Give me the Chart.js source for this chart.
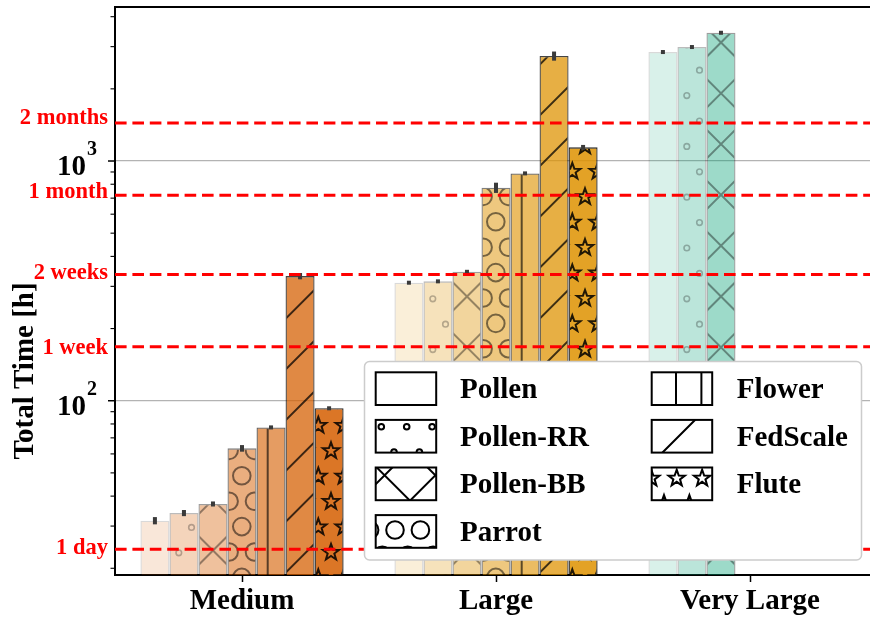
<!DOCTYPE html>
<html>
<head>
<meta charset="utf-8">
<script src="https://cdn.jsdelivr.net/npm/chart.js@4.4.1/dist/chart.umd.min.js"></script>
<style>
    html, body { margin: 0; padding: 0; background: #fff; overflow: hidden; }
    #wrap { width: 870px; height: 619px; overflow: hidden; position: relative; }
    #chart { position: absolute; left: 0; top: 0; }
</style>
</head>
<body>
<div id="wrap"><canvas id="chart" width="885" height="619"></canvas></div>
<script>
// Datos (horas)
const categories = ['Medium', 'Large', 'Very Large'];
const methods = ['Pollen', 'Pollen-RR', 'Pollen-BB', 'Parrot', 'Flower', 'FedScale', 'Flute'];

const pollen   = [31.6, 310.7, 2849];
const pollenRR = [34.0, 314.8, 2989];
const pollenBB = [37.1, 345, 3428];
const parrot   = [63.3, 774, null];
const flower   = [77.4, 888, null];
const fedscale = [331, 2742, null];
const flute    = [93.0, 1140, null];

const pollenErr   = [1.1, 4, 55];
const pollenRRErr = [1.0, 4, 57];
const pollenBBErr = [0.9, 4, 65];
const parrotErr   = [2.0, 38, null];
const flowerErr   = [1.5, 17, null];
const fedscaleErr = [10, 120, null];
const fluteErr    = [1.8, 27, null];

// Ejes
const yMin = 18.75;
const yMax = 4390;
const yTicks = [20, 30, 40, 50, 60, 70, 80, 90, 100, 200, 300, 400, 500, 600, 700, 800, 900, 1000, 2000, 3000, 4000];
const majorTicks = [100, 1000];
const majorExponents = ['2', '3'];

// Líneas de referencia
const refHours = [24, 168, 336, 720, 1440];
const refLabels = ['1 day', '1 week', '2 weeks', '1 month', '2 months'];

const series = [pollen, pollenRR, pollenBB, parrot, flower, fedscale, flute];
const errors = [pollenErr, pollenRRErr, pollenBBErr, parrotErr, flowerErr, fedscaleErr, fluteErr];

// Estilos
const groupColors = [[213, 94, 0], [222, 146, 0], [0, 158, 115]];
const alphas = [0.15, 0.267, 0.383, 0.5, 0.617, 0.733, 0.85];
const hatches = ['', 'o', 'x', 'O', '|', '/', '*'];
const FONT = '"Liberation Serif", "Times New Roman", serif';

const TILE = 254, P1 = 25.4, P2 = 50.8;
const barPhase = { 'o': [13.7, 19.4], 'x': [1.5, 18.1], 'O': [13.2, 18.6], '|': [13.7], '/': [45.5], '*': [0.8, 44.5] };
const legendPhase = { 'o': [0.3, 20.3], 'x': [47.1, 10.9], 'O': [14, 22], '|': [15.6], '/': [48.2], '*': [16.3, 21.1] };

function star(g, cx, cy, R, r) {
    for (let k = 0; k < 10; k++) {
        const a = -Math.PI / 2 + k * Math.PI / 5;
        const rad = k % 2 === 0 ? R : r;
        const px = cx + rad * Math.cos(a), py = cy + rad * Math.sin(a);
        if (k === 0) g.moveTo(px, py); else g.lineTo(px, py);
    }
    g.closePath();
}

function makePattern(hatch, fill, stroke, lw, ph) {
    const c = document.createElement('canvas');
    c.width = TILE; c.height = TILE;
    const g = c.getContext('2d');
    g.fillStyle = fill;
    g.fillRect(0, 0, TILE, TILE);
    g.strokeStyle = stroke;
    g.lineWidth = lw;
    g.lineJoin = 'miter';
    g.beginPath();
    if (hatch === '|') {
        for (let x = ph[0] - P1; x < TILE + P1; x += P1) { g.moveTo(x, -5); g.lineTo(x, TILE + 5); }
    } else if (hatch === '/') {
        for (let s = ph[0] - P2; s < 2 * TILE + P2; s += P2) { g.moveTo(s + 5, -5); g.lineTo(s - TILE - 5, TILE + 5); }
    } else if (hatch === 'x') {
        for (let s = ph[0] - P2; s < 2 * TILE + P2; s += P2) { g.moveTo(s + 5, -5); g.lineTo(s - TILE - 5, TILE + 5); }
        for (let d = ph[1] - TILE - P2; d < TILE + P2; d += P2) { g.moveTo(d - 5, -5); g.lineTo(d + TILE + 5, TILE + 5); }
    } else if (hatch === 'o' || hatch === 'O' || hatch === '*') {
        for (let j = -1; j <= TILE / P2 + 1; j++) {
            for (let i = -1; i <= TILE / P1 + 1; i++) {
                const pts = [[ph[0] + i * P1, ph[1] + j * P2], [ph[0] + i * P1 + P1 / 2, ph[1] + j * P2 + P1]];
                pts.forEach(([cx, cy]) => {
                    if (hatch === '*') {
                        star(g, cx, cy, 8.6, 3.5);
                    } else {
                        const r = hatch === 'o' ? 2.8 : 8.8;
                        g.moveTo(cx + r, cy);
                        g.arc(cx, cy, r, 0, Math.PI * 2);
                    }
                });
            }
        }
    }
    g.stroke();
    return g.createPattern(c, 'repeat');
}

const rgba = (c, a) => `rgba(${c[0]},${c[1]},${c[2]},${a})`;

const datasets = methods.map((name, i) => ({
    label: name,
    data: series[i],
    backgroundColor: groupColors.map(c => makePattern(hatches[i], rgba(c, alphas[i]), `rgba(0,0,0,${alphas[i]})`, hatches[i] === 'o' ? 1.6 : 2, barPhase[hatches[i]] || [0, 0])),
    borderColor: `rgba(0,0,0,${alphas[i]})`,
    borderWidth: 1.3,
    categoryPercentage: 0.8,
    barPercentage: 1.0
}));

const legendPatterns = hatches.map(h => makePattern(h, '#fff', '#000', 2, legendPhase[h] || [0, 0]));

const errorBarsPlugin = {
    id: 'errorBars',
    afterDatasetsDraw(chart) {
        const ctx = chart.ctx;
        const y = chart.scales.y;
        ctx.save();
        ctx.fillStyle = '#3a3a3a';
        chart.data.datasets.forEach((ds, i) => {
            const meta = chart.getDatasetMeta(i);
            meta.data.forEach((bar, j) => {
                const v = ds.data[j];
                if (v == null) return;
                const e = errors[i][j];
                let top = y.getPixelForValue(v + e);
                let bot = y.getPixelForValue(v - e);
                if (bot - top < 4) { const m = (top + bot) / 2; top = m - 2; bot = m + 2; }
                ctx.fillRect(bar.x - 2, top, 4, bot - top);
            });
        });
        ctx.restore();
    }
};

const overlayPlugin = {
    id: 'overlay',
    afterDraw(chart) {
        const ctx = chart.ctx;
        const area = chart.chartArea;
        const y = chart.scales.y;
        ctx.save();

        // borde superior
        ctx.strokeStyle = '#000';
        ctx.lineWidth = 2;
        ctx.beginPath();
        ctx.moveTo(area.left - 1, area.top);
        ctx.lineTo(area.right, area.top);
        ctx.stroke();

        // marcas del eje y
        yTicks.forEach(v => {
            const py = y.getPixelForValue(v);
            const major = majorTicks.includes(v);
            ctx.lineWidth = major ? 1.5 : 1.1;
            ctx.beginPath();
            ctx.moveTo(area.left, py);
            ctx.lineTo(area.left - (major ? 7 : 4.5), py);
            ctx.stroke();
        });

        // etiquetas 10^n
        ctx.fillStyle = '#000';
        majorTicks.forEach((v, i) => {
            const py = y.getPixelForValue(v);
            ctx.font = `bold 29px ${FONT}`;
            ctx.textAlign = 'right';
            ctx.textBaseline = 'alphabetic';
            ctx.fillText('10', 86, py + 14);
            ctx.font = `bold 20px ${FONT}`;
            ctx.textAlign = 'left';
            ctx.fillText(majorExponents[i], 87, py - 6);
        });

        // título del eje y
        ctx.save();
        ctx.translate(33, 371);
        ctx.rotate(-Math.PI / 2);
        ctx.font = `bold 29px ${FONT}`;
        ctx.textAlign = 'center';
        ctx.fillText('Total Time [h]', 0, 0);
        ctx.restore();

        // líneas rojas
        const nudges = [4.7, 7.6, 4.6, 3, 1];
        ctx.save();
        ctx.beginPath();
        ctx.rect(area.left, area.top, area.right - area.left, area.bottom - area.top);
        ctx.clip();
        ctx.strokeStyle = '#ff0000';
        ctx.lineWidth = 3;
        ctx.setLineDash([11.6, 5.8]);
        refHours.forEach(h => {
            const py = y.getPixelForValue(h);
            ctx.beginPath();
            ctx.moveTo(area.left, py);
            ctx.lineTo(area.right, py);
            ctx.stroke();
        });
        ctx.restore();
        ctx.fillStyle = '#ff0000';
        ctx.font = `bold 22.5px ${FONT}`;
        ctx.textAlign = 'right';
        refHours.forEach((h, i) => {
            const py = y.getPixelForValue(h);
            ctx.fillText(refLabels[i], 108, py + nudges[i]);
        });

        // leyenda
        const lx = 364.5, ly = 361.5, lw = 497, lh = 198.5;
        ctx.beginPath();
        ctx.roundRect(lx, ly, lw, lh, 5);
        ctx.fillStyle = '#fff';
        ctx.fill();
        ctx.strokeStyle = '#cccccc';
        ctx.lineWidth = 1.5;
        ctx.stroke();

        const cols = [[375.7, 460], [651.7, 736.7]];
        const rowTop = 372.3, rowPitch = 47.6, pw = 60.5, ph = 32.7;
        ctx.font = `bold 29px ${FONT}`;
        ctx.textAlign = 'left';
        chart.data.datasets.forEach((ds, i) => {
            const col = i < 4 ? 0 : 1;
            const row = i < 4 ? i : i - 4;
            const px = cols[col][0], py = rowTop + row * rowPitch;
            ctx.fillStyle = legendPatterns[i];
            ctx.fillRect(px, py, pw, ph);
            ctx.strokeStyle = '#000';
            ctx.lineWidth = 2;
            ctx.strokeRect(px, py, pw, ph);
            ctx.fillStyle = '#000';
            ctx.fillText(ds.label, cols[col][1], py + ph / 2 + 9.6);
        });

        ctx.restore();
    }
};

new Chart(document.getElementById('chart'), {
    type: 'bar',
    data: { labels: categories, datasets: datasets },
    options: {
        responsive: false,
        animation: false,
        layout: { padding: { top: 7, right: 8, left: 0, bottom: 0 } },
        plugins: { legend: { display: false }, tooltip: { enabled: false } },
        scales: {
            x: {
                z: 1,
                grid: { display: true, drawOnChartArea: false, drawTicks: true, tickLength: 7, tickColor: '#000', tickWidth: 1.5, offset: false },
                border: { color: '#000', width: 2 },
                ticks: { color: '#000', font: { family: FONT, size: 29, weight: 'bold' }, padding: 2 },
                afterFit(scale) { scale.height = 44; }
            },
            y: {
                type: 'logarithmic',
                min: yMin,
                max: yMax,
                z: 1,
                afterBuildTicks(scale) {
                    scale.ticks = yTicks.map(v => ({ value: v, major: majorTicks.includes(v) }));
                },
                grid: {
                    color: ctx => (ctx.tick && majorTicks.includes(ctx.tick.value)) ? '#b3b3b3' : 'rgba(0,0,0,0)',
                    lineWidth: 1.3,
                    drawTicks: false
                },
                border: { color: '#000', width: 2 },
                ticks: { display: false },
                afterFit(scale) { scale.width = 115; }
            }
        }
    },
    plugins: [errorBarsPlugin, overlayPlugin]
});
</script>
</body>
</html>
